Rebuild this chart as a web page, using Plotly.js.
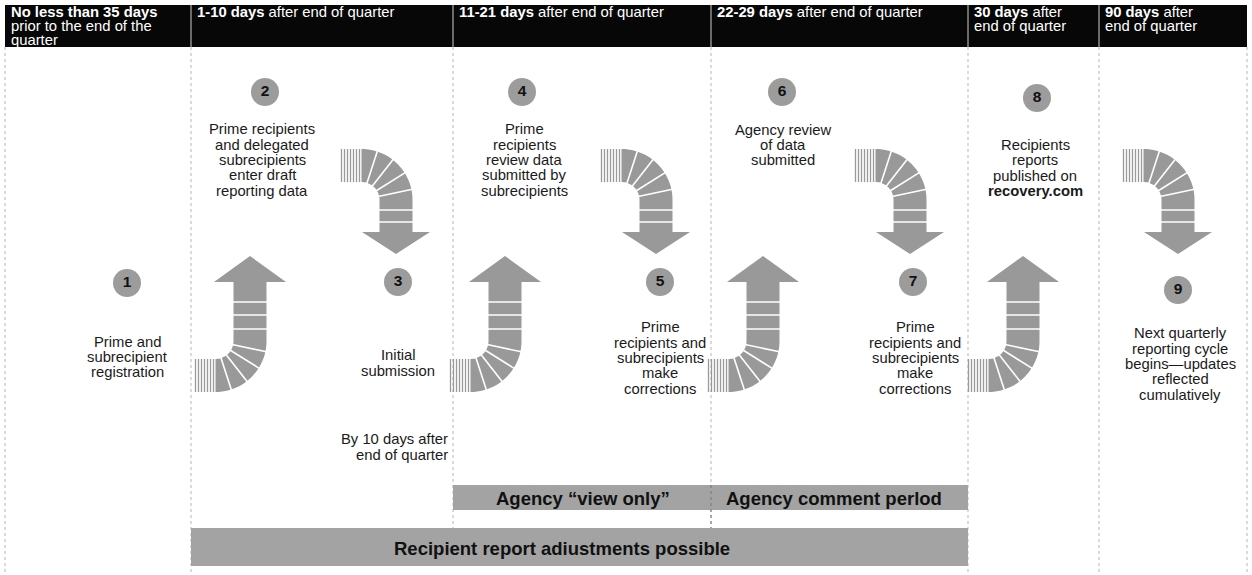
<!DOCTYPE html>
<html>
<head>
<meta charset="utf-8">
<script src="https://cdn.plot.ly/plotly-3.0.1.min.js"></script>
<style>html,body{margin:0;padding:0;background:#fff;}#chart{width:1252px;height:575px;}</style>
</head>
<body>
<div id="chart"></div>
<script>
// ---------------- DATA ----------------
const periodBold = ["No less than 35 days", "1-10 days", "11-21 days", "22-29 days", "30 days", "90 days"];
const periodRest = ["prior to the end of the\nquarter", "after end of quarter", "after end of quarter", "after end of quarter", "after\nend of quarter", "after\nend of quarter"];
const stepNumbers = ["1", "2", "3", "4", "5", "6", "7", "8", "9"];
const stepTexts = [
  "Prime and\nsubrecipient\nregistration",
  "Prime recipients\nand delegated\nsubrecipients\nenter draft\nreporting data",
  "Initial\nsubmission",
  "Prime\nrecipients\nreview data\nsubmitted by\nsubrecipients",
  "Prime\nrecipients and\nsubrecipients\nmake\ncorrections",
  "Agency review\nof data\nsubmitted",
  "Prime\nrecipients and\nsubrecipients\nmake\ncorrections",
  "Recipients\nreports\npublished on\n<b>recovery.com</b>",
  "Next quarterly\nreporting cycle\nbegins—updates\nreflected\ncumulatively"
];
const deadlineNote = "By 10 days after\nend of quarter";
const bandLabels = ["Agency “view only”", "Agency comment perlod", "Recipient report adiustments possible"];

// ---------------- LAYOUT (positions / styles) ----------------
const W = 1252, H = 575;
const colEdges = [5, 191, 453, 711, 968, 1099, 1247];
const headerTop = 5, headerBottom = 47;
const circleX = [127, 265, 398, 522, 660, 782, 913, 1037, 1178];
const circleY = [283, 92, 282, 92, 282, 92, 282, 98, 290];
const textX = [127, 262, 398, 524, 660, 783, 915, 1035, 1180];
const textY = [357, 160, 363, 160, 358, 145, 358, 168, 364];
const downTips = [396, 656, 910, 1178];
const upTips = [250, 505, 763, 1023];
const bands = [[453, 711, 485, 510], [711, 968, 485, 510], [191, 968, 528, 566]];
const bandLabelX = [583, 834, 562];
const ARROW = '#999999', GRID = '#b5b5b5', FONT = 'Liberation Sans, Arial, Helvetica, sans-serif';
const BODY_SIZE = 14.8, BODY_STEP = 15.4, HEAD_SIZE = 14.8, HEAD_STEP = 14.2;

const shapes = [];
const annotations = [];

function addLines(text, x, yCenter, step, font, xanchor) {
  const lines = text.split('\n');
  const y0 = yCenter - (lines.length - 1) * step / 2;
  lines.forEach((ln, k) => {
    annotations.push({x: x, y: y0 + k * step, text: ln, showarrow: false, xanchor: xanchor || 'center',
      yanchor: 'middle', font: font});
  });
}

// header
shapes.push({type: 'rect', x0: colEdges[0], x1: colEdges[colEdges.length - 1], y0: headerTop, y1: headerBottom,
  fillcolor: '#070707', line: {width: 0}, layer: 'below'});
// column lines
colEdges.forEach((x, i) => {
  let yEnd = H;
  if (i === 2 || i === 3) yEnd = 528;
  shapes.push({type: 'line', x0: x, x1: x, y0: headerBottom, y1: yEnd, line: {color: GRID, width: 1, dash: 'dot'}});
  if (i > 0 && i < colEdges.length - 1)
    shapes.push({type: 'line', x0: x, x1: x, y0: headerTop, y1: headerBottom, line: {color: '#cfcfcf', width: 1}});
});
// bands
bands.forEach((b, i) => {
  shapes.push({type: 'rect', x0: b[0], x1: b[1], y0: b[2], y1: b[3], fillcolor: '#a3a3a3', line: {width: 0}});
  annotations.push({x: bandLabelX[i], y: (b[2] + b[3]) / 2 + 1, text: '<b>' + bandLabels[i] + '</b>',
    showarrow: false, font: {family: FONT, size: 18.5, color: '#111'}, xanchor: 'center', yanchor: 'middle'});
});
shapes.push({type: 'line', x0: 711, x1: 711, y0: 485, y1: 528, line: {color: '#777', width: 1, dash: 'dot'}});

// header texts
const headFont = {family: FONT, size: HEAD_SIZE, color: '#ffffff'};
periodBold.forEach((b, i) => {
  const parts = periodRest[i].split('\n');
  let lines;
  if (i === 0) lines = ['<b>' + b + '</b>'].concat(parts);
  else lines = ['<b>' + b + '</b> ' + parts[0]].concat(parts.slice(1));
  lines.forEach((ln, k) => {
    annotations.push({x: colEdges[i] + 4, y: 12 + k * HEAD_STEP, text: ln, showarrow: false, xanchor: 'left',
      yanchor: 'middle', font: headFont});
  });
});

// step texts
const bodyFont = {family: FONT, size: BODY_SIZE, color: '#1a1a1a'};
stepTexts.forEach((t, i) => addLines(t, textX[i], textY[i], BODY_STEP, bodyFont, 'center'));
addLines(deadlineNote, 450, 447, BODY_STEP, bodyFont, 'right');

// arrows
const Rin = 18, Rout = 51, HALF = 16.5;
function arcPoly(cx, cy, a0, a1) {
  const pts = [];
  const n = 24;
  for (let k = 0; k <= n; k++) { const a = (a0 + (a1 - a0) * k / n) * Math.PI / 180; pts.push([cx + Rout * Math.cos(a), cy + Rout * Math.sin(a)]); }
  for (let k = n; k >= 0; k--) { const a = (a0 + (a1 - a0) * k / n) * Math.PI / 180; pts.push([cx + Rin * Math.cos(a), cy + Rin * Math.sin(a)]); }
  return 'M' + pts.map(p => p[0].toFixed(1) + ',' + p[1].toFixed(1)).join(' L') + ' Z';
}
function radial(cx, cy, a) {
  const r = a * Math.PI / 180;
  return {type: 'line', x0: cx + (Rin - 1) * Math.cos(r), y0: cy + (Rin - 1) * Math.sin(r),
    x1: cx + (Rout + 1) * Math.cos(r), y1: cy + (Rout + 1) * Math.sin(r), line: {color: '#fff', width: 1.6}};
}
function tail(x0, yTop, yBot) {
  for (let k = 0; k < 7; k++) {
    shapes.push({type: 'line', x0: x0 + k * 3, x1: x0 + k * 3, y0: yTop, y1: yBot, line: {color: ARROW, width: 1.3}});
  }
}
// down arrows: tail top-left, curve to the right and down
downTips.forEach(T => {
  const cx = T - HALF - Rin, cy = 149 + Rout;
  tail(cx - 20, cy - Rout, cy - Rin);
  shapes.push({type: 'path', path: arcPoly(cx, cy, -90, 0), fillcolor: ARROW, line: {width: 0}});
  shapes.push({type: 'rect', x0: T - HALF, x1: T + HALF, y0: cy, y1: 233, fillcolor: ARROW, line: {width: 0}});
  shapes.push({type: 'path', path: `M${T - 34},232 L${T + 34},232 L${T},254 Z`, fillcolor: ARROW, line: {width: 0}});
  [-72, -52, -32, -12].forEach(a => shapes.push(radial(cx, cy, a)));
  [cy + 10, cy + 22].forEach(y => shapes.push({type: 'line', x0: T - HALF - 1, x1: T + HALF + 1, y0: y, y1: y, line: {color: '#fff', width: 1.6}}));
});
// up arrows: tail bottom-left, curve to the right and up
upTips.forEach(T => {
  const cx = T - HALF - Rin, cy = 392 - Rout;
  tail(cx - 20, cy + Rin, cy + Rout);
  shapes.push({type: 'path', path: arcPoly(cx, cy, 0, 90), fillcolor: ARROW, line: {width: 0}});
  shapes.push({type: 'rect', x0: T - HALF, x1: T + HALF, y0: 281, y1: cy, fillcolor: ARROW, line: {width: 0}});
  shapes.push({type: 'path', path: `M${T - 36},282 L${T + 36},282 L${T},256 Z`, fillcolor: ARROW, line: {width: 0}});
  [12, 32, 52, 72].forEach(a => shapes.push(radial(cx, cy, a)));
  [cy - 12, cy - 26, 302].forEach(y => shapes.push({type: 'line', x0: T - HALF - 1, x1: T + HALF + 1, y0: y, y1: y, line: {color: '#fff', width: 1.6}}));
});

const circles = {
  type: 'scatter', mode: 'markers+text', x: circleX, y: circleY,
  text: stepNumbers.map(s => '<b>' + s + '</b>'), textposition: 'middle center',
  textfont: {family: FONT, size: 15.5, color: '#111'},
  marker: {size: 28, color: '#9c9c9c', line: {width: 0}}, hoverinfo: 'skip', cliponaxis: false
};

const layout = {
  width: W, height: H, margin: {l: 0, r: 0, t: 0, b: 0},
  paper_bgcolor: '#fff', plot_bgcolor: '#fff', showlegend: false,
  xaxis: {range: [0, W], visible: false, fixedrange: true},
  yaxis: {range: [H, 0], visible: false, fixedrange: true},
  shapes: shapes, annotations: annotations
};
Plotly.newPlot('chart', [circles], layout, {staticPlot: true, displayModeBar: false});
</script>
</body>
</html>
